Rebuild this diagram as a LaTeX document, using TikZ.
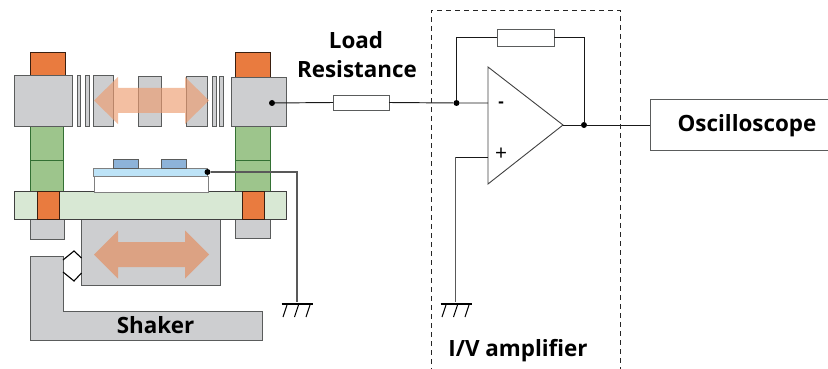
\documentclass[tikz,border=0pt]{standalone}
\usepackage{fontspec}
\setmainfont{Open Sans}
\usetikzlibrary{calc}
\definecolor{gblock}{HTML}{CDCED0}
\definecolor{gedge}{HTML}{5A5C5C}
\definecolor{gsoft}{HTML}{9DC58C}
\definecolor{gplate}{HTML}{D8E8D4}
\definecolor{oblock}{HTML}{E97B3F}
\definecolor{bpad}{HTML}{8DB3D9}
\definecolor{bfilm}{HTML}{BDE3F7}
\definecolor{arrA}{HTML}{EC9C70}
\definecolor{arrB}{HTML}{DCA283}
\tikzset{
  partbox/.style={draw=gedge,line width=0.9pt,inner sep=0pt,outer sep=0pt,anchor=north west},
  steel/.style={partbox,fill=gblock},
  soft/.style={partbox,fill=gsoft,draw=black!60!green!60!gray},
  plate/.style={partbox,fill=gplate,draw=black!75},
  magnet/.style={partbox,fill=oblock,draw=black!75!oblock},
  pad/.style={partbox,fill=bpad},
  film/.style={partbox,fill=bfilm,draw=gray},
  whitebox/.style={partbox,fill=white,draw=gray},
  resist/.style={partbox,fill=white},
  wire/.style={draw=black!90,line width=0.95pt},
  graywire/.style={draw=black!65,line width=1.2pt},
  jdot/.style={fill=black,circle,inner sep=0pt,minimum size=6pt},
  lbl/.style={font=\bfseries\fontsize{22.4}{24}\selectfont,inner sep=0pt,text=black}
}
\newcommand{\pbox}[6]{\node[#1,minimum width=#4pt-#2pt,minimum height=#5pt-#3pt] (#6) at (#2,#3) {};}
\newcommand{\dblarrow}[3]{(94,#1) -- (118,#2) -- (118,#2+#3) -- (185,#2+#3) -- (185,#2) -- (209,#1) -- (185,2*#1-#2) -- (185,2*#1-#2-#3) -- (118,2*#1-#2-#3) -- (118,2*#1-#2) -- cycle}
\newcommand{\ground}[1]{%
  \draw[line width=1.1pt] ($(#1)+(-15.5,0)$) -- ($(#1)+(15.5,0)$);
  \foreach \dx in {-10,1.5,13}{\draw[line width=1pt] ($(#1)+(\dx,1)$) -- ($(#1)+(\dx-4,13)$);}
}
\begin{document}
\begin{tikzpicture}[x=1pt,y=-1pt]
\useasboundingbox (0,0) rectangle (828,369);
% shaker
\draw[draw=gedge,fill=gblock,line width=0.9pt] (30,256) -- (63,256) -- (63,311) -- (262,311) -- (262,340) -- (30,340) -- cycle;
\node[lbl] (shaker) at (155.5,325) {Shaker};
\pbox{steel}{81}{219}{220}{285}{table}
\draw[line width=1.1pt,line join=miter] (63,260) -- (74,251) -- (81.5,258);
\draw[line width=1.1pt,line join=miter] (63,272) -- (74,281) -- (81.5,273);
\fill[arrB] \dblarrow{254.5}{230.5}{11.5};
% posts
\pbox{steel}{30}{219}{64}{239}{footL}
\pbox{steel}{235}{219}{270}{238}{footR}
\pbox{soft}{30}{126}{63}{160}{softLa}
\pbox{soft}{30}{160}{63}{191}{softLb}
\pbox{soft}{235}{126}{270}{160}{softRa}
\pbox{soft}{235}{160}{270}{191}{softRb}
\pbox{plate}{14}{191}{286}{219}{baseplate}
\pbox{magnet}{37}{191}{59}{219}{magL}
\pbox{magnet}{242}{191}{264}{219}{magR}
% upper stack
\pbox{magnet}{30}{52}{65}{75}{topL}
\pbox{magnet}{235}{52}{270}{77}{topR}
\pbox{steel}{14}{75}{72}{126}{blockL}
\pbox{steel}{231}{77}{286}{126}{blockR}
\pbox{steel}{77}{75}{80}{126}{thinA}
\pbox{steel}{85}{75}{89}{126}{thinB}
\pbox{steel}{93}{75}{113}{126}{midA}
\pbox{steel}{138}{76}{161}{126}{midB}
\pbox{steel}{186}{76}{207}{126}{midC}
\pbox{steel}{212}{76}{216}{126}{thinC}
\pbox{steel}{219}{76}{223}{126}{thinD}
\fill[arrA,opacity=.65] \dblarrow{100.5}{77}{11};
% sample
\pbox{whitebox}{94}{176}{208}{192}{substrate}
\pbox{film}{93}{168}{207}{176}{filmlayer}
\pbox{pad}{113}{159}{138}{168}{padA}
\pbox{pad}{161}{159}{186}{168}{padB}
% electronics nodes
\pbox{resist}{333}{95}{389}{110}{rload}
\pbox{resist}{497}{29}{554}{46}{rfb}
\pbox{partbox}{650}{99}{829}{150}{scope}
\node[lbl] (scopetext) at (747,126) {Oscilloscope};
\node[lbl] (load) at (356,40) {Load};
\node[lbl] (resistance) at (357,69) {Resistance};
\node[lbl] (iv) at (518,351) {I/V amplifier};
\coordinate (oa1) at (488,67);
\coordinate (oa2) at (488,184);
\coordinate (oaout) at (563,125);
\coordinate (inm) at (488,103);
\coordinate (inp) at (488,157);
\coordinate (gndA) at (297,304);
\coordinate (gndB) at (456,304);
\coordinate (plusturn) at (455.5,157);
\draw[line width=0.9pt,draw=black!75] (oa1) -- (oa2) -- (oaout) -- cycle;
\node[font=\bfseries\fontsize{17}{17}\selectfont,inner sep=0pt] (minus) at (501,105) {-};
\node[font=\fontsize{21}{21}\selectfont,inner sep=0pt] (plus) at (501,154) {+};
% junctions
\node[jdot] (dR) at (272,103) {};
\node[jdot] (dS) at (207.5,172) {};
\node[jdot] (dF) at (456.5,103) {};
\node[jdot] (dO) at (584,125) {};
% wires
\draw[wire] (dR) -- (rload.west);
\draw[wire] (rload.east) -- (dF) -- (inm);
\draw[wire] (dF) |- (rfb.west);
\draw[wire] (rfb.east) -| (dO);
\draw[wire] (oaout) -- (dO) -- (scope.west |- dO);
\draw[graywire] (dS) -| ($(gndA)+(0,-2)$);
\draw[wire] (inp) -- (plusturn);
\draw[graywire] (plusturn) -- ($(plusturn |- gndB)+(0,-2)$);
\ground{gndA}
\ground{gndB}
% dashed box
\draw[line width=0.9pt,draw=black!85,dash pattern=on 5pt off 4pt] (431,373) -- (431,10) -- (620,10) -- (620,373);
\end{tikzpicture}
\end{document}
